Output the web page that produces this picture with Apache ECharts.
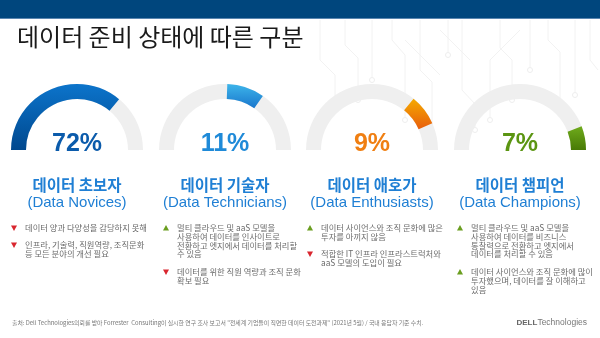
<!DOCTYPE html>
<html><head><meta charset="utf-8">
<script src="https://cdn.jsdelivr.net/npm/echarts@6/dist/echarts.min.js"></script>
<style>html,body{margin:0;padding:0;background:#fff}#c{width:600px;height:338px}</style>
</head><body><div id="c"></div>
<script>
const pageTitle = '데이터 준비 상태에 따른 구분';
const categoriesKo = ['데이터 초보자', '데이터 기술자', '데이터 애호가', '데이터 챔피언'];
const categoriesEn = ['(Data Novices)', '(Data Technicians)', '(Data Enthusiasts)', '(Data Champions)'];
const values = [72, 11, 9, 7];
const arcStart = [180, 88, 51, 21];      // where each highlighted segment begins (deg)
const arcSpan100 = [180, 300, 300, 300]; // degrees the gauge scale spans for 100%
const bullets = [
  [['down', ['데이터 양과 다양성을 감당하지 못해']],
   ['down', ['인프라, 기술력, 직원역량, 조직문화', '등 모든 분야의 개선 필요']]],
  [['up', ['멀티 클라우드 및 aaS 모델을', '사용하여 데이터를 인사이트로', '전환하고 엣지에서 데이터를 처리할', '수 있음']],
   ['down', ['데이터를 위한 직원 역량과 조직 문화', '확보 필요']]],
  [['up', ['데이터 사이언스와 조직 문화에 많은', '투자를 아끼지 않음']],
   ['down', ['적합한 IT 인프라 인프라스트럭처와', 'aaS 모델의 도입이 필요']]],
  [['up', ['멀티 클라우드 및 aaS 모델을', '사용하여 데이터를 비즈니스', '통찰력으로 전환하고 엣지에서', '데이터를 처리할 수 있음']],
   ['up', ['데이터 사이언스와 조직 문화에 많이', '투자했으며, 데이터를 잘 이해하고', '있음']]]
];
const footnote = '출처: Dell Technologies의뢰를 받아 Forrester  Consulting이 실시한 연구 조사 보고서 "전세계 기업들이 직면한 데이터 도전과제" (2021년 5월) / 국내 응답자 기준 수치.';

const chart = echarts.init(document.getElementById('c'), null, {renderer: 'canvas'});
const KR = '"Noto Sans CJK KR", "Noto Sans", sans-serif';
const AR = '"Liberation Sans", Arial, sans-serif';
const cx = [77, 225, 372, 520];
const cy = 150, R = 66, W = 15;
const grads = [
  ['#0c74cb', '#00488e'],
  ['#3db5ea', '#1976cc'],
  ['#f5aa00', '#e85e0c'],
  ['#6fab1c', '#487a06']
];
const pctColor = ['#0b5bab', '#1f8ad8', '#f07f12', '#5b9512'];
const titleColor = '#1f7fd4';

const series = [];
values.forEach((v, i) => {
  series.push({
    type: 'gauge', center: [cx[i], cy], radius: R, startAngle: 180, endAngle: 0,
    axisLine: {lineStyle: {width: W, color: [[1, '#efefef']]}},
    pointer: {show: false}, axisTick: {show: false}, splitLine: {show: false},
    axisLabel: {show: false}, detail: {show: false}, title: {show: false},
    silent: true, animation: false, data: [{value: 0}]
  });
  series.push({
    type: 'gauge', center: [cx[i], cy], radius: R,
    startAngle: arcStart[i], endAngle: arcStart[i] - arcSpan100[i], min: 0, max: 100,
    axisLine: {show: false},
    progress: {show: true, width: W, itemStyle: {color: new echarts.graphic.LinearGradient(0, 0, 0, 1, [{offset: 0, color: grads[i][0]}, {offset: 1, color: grads[i][1]}])}},
    pointer: {show: false}, axisTick: {show: false}, splitLine: {show: false},
    axisLabel: {show: false}, title: {show: false},
    detail: {show: true, offsetCenter: [0, -6], formatter: '{value}%', fontSize: 25, fontWeight: 'bold',
      fontFamily: AR, color: pctColor[i]},
    silent: true, animation: false, data: [{value: v}]
  });
});

const graphic = [];
// header bar
graphic.push({type: 'rect', shape: {x: 0, y: 0, width: 600, height: 18}, style: {fill: '#00467d'}, z: 10});
graphic.push({type: 'rect', shape: {x: 0, y: 18, width: 600, height: 1}, style: {fill: '#5a86b0'}, z: 10});
// faint circuit decoration
const deco = [
  [[320,20],[320,60],[335,75],[335,110]], [[345,20],[345,45],[358,58],[358,100]],
  [[372,20],[372,80]], [[392,20],[392,40],[405,55],[405,120]], [[420,20],[420,70],[432,82],[432,140]],
  [[448,20],[448,55]], [[462,20],[462,90],[475,104],[475,130]], [[500,20],[500,48],[512,60],[512,100]],
  [[530,20],[530,70]], [[548,20],[548,40],[560,52],[560,110]], [[575,20],[575,95]], [[590,20],[590,60],[598,70]],
  [[405,40],[440,75]], [[520,30],[490,60],[490,120]], [[440,30],[470,60]]
];
deco.forEach(p => graphic.push({type: 'polyline', shape: {points: p}, style: {stroke: '#f2f2f2', lineWidth: 1, fill: null}, z: 0, silent: true}));
[[335,110],[358,100],[372,80],[405,120],[432,140],[448,55],[475,130],[512,100],[530,70],[560,110],[575,95],[490,120]].forEach(c =>
  graphic.push({type: 'circle', shape: {cx: c[0], cy: c[1], r: 2.5}, style: {stroke: '#eeeeee', fill: '#fff', lineWidth: 1}, z: 0, silent: true}));
// title
graphic.push({type: 'text', x: 17, y: 37, style: {text: pageTitle, font: '24px ' + KR, fill: '#1a1a1a', textVerticalAlign: 'middle'}, z: 10});
// category titles
categoriesKo.forEach((t, i) => {
  graphic.push({type: 'text', x: cx[i], y: 185, style: {text: t, font: 'bold 15.5px ' + KR, fill: titleColor, textAlign: 'center', textVerticalAlign: 'middle'}, z: 10});
  graphic.push({type: 'text', x: cx[i], y: 203, style: {text: categoriesEn[i], font: '15px ' + AR, fill: titleColor, textAlign: 'center', textVerticalAlign: 'middle'}, z: 10});
});
// bullets
const triX = [14, 166, 310, 460];
const bulletStarts = [[228, 245], [228, 272], [228, 254], [228, 272]];
const LH = 8.7;
bullets.forEach((col, i) => {
  col.forEach((b, j) => {
    const y0 = bulletStarts[i][j];
    const up = b[0] === 'up';
    graphic.push({type: 'polygon', shape: {points: up ? [[triX[i]-3, y0+2.5],[triX[i]+3, y0+2.5],[triX[i], y0-3]] : [[triX[i]-3, y0-2.5],[triX[i]+3, y0-2.5],[triX[i], y0+3]]},
      style: {fill: up ? '#6a9e1f' : '#d9262f'}, z: 10});
    b[1].forEach((line, k) => {
      graphic.push({type: 'text', x: triX[i] + 11, y: y0 + k * LH, style: {text: line, font: '8.3px ' + KR, fill: '#6b6b6b', textVerticalAlign: 'middle'}, z: 10});
    });
  });
});
// footer
graphic.push({type: 'text', x: 12, y: 323, style: {text: footnote, font: '5.9px ' + KR, fill: '#777', textVerticalAlign: 'middle'}, z: 10});
graphic.push({type: 'text', x: 587, y: 323, style: {text: '{a|DELL}{b|Technologies}', textAlign: 'right', textVerticalAlign: 'middle',
  rich: {a: {font: 'bold 8px ' + AR, fill: '#666', color: '#666'}, b: {font: '8.5px ' + AR, fill: '#777', color: '#777'}}}, z: 10});

chart.setOption({animation: false, backgroundColor: '#fff', series: series, graphic: graphic});
</script></body></html>
